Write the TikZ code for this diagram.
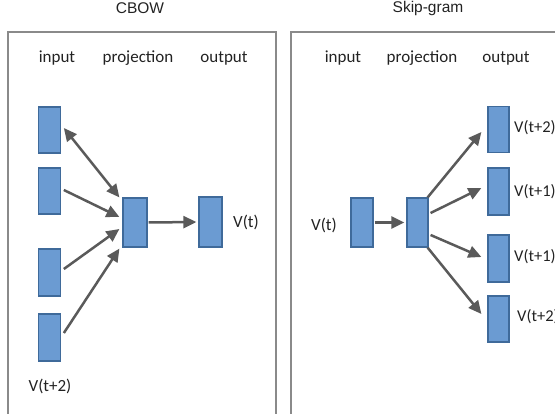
\documentclass[tikz,border=0pt]{standalone}
\usepackage{fontspec}
\setmainfont{Carlito}
\newfontfamily\titlefont{Liberation Sans}
\usetikzlibrary{arrows.meta}
\definecolor{vecfill}{HTML}{6B9BD2}
\definecolor{vecdraw}{HTML}{3F6A9A}
\definecolor{arrowgray}{HTML}{5A5A5A}
\definecolor{framegray}{HTML}{8A8A8A}
\definecolor{textcol}{HTML}{222222}
\begin{document}
\begin{tikzpicture}[x=1pt,y=-1pt,
  vec/.style={draw=vecdraw,line width=1.2pt,fill=vecfill,inner sep=0pt,minimum width=22pt,minimum height=46pt},
  conn/.style={draw=arrowgray,line width=2.5pt,-{Triangle[length=13pt,width=12pt]}},
  biconn/.style={draw=arrowgray,line width=2.5pt,{Triangle[length=13pt,width=12pt]}-{Triangle[length=13pt,width=12pt]}},
  frame/.style={draw=framegray,line width=1.5pt},
  lbl/.style={font=\fontsize{17}{20}\selectfont,inner sep=0pt,text=textcol},
  rlbl/.style={font=\fontsize{16.5}{19}\selectfont,inner sep=0pt,anchor=west,text=textcol},
  ttl/.style={font=\titlefont\fontsize{15.5}{18}\selectfont,inner sep=0pt,text=textcol}]
\useasboundingbox (0,0) rectangle (555,414);
\clip (0,0) rectangle (555,414);
% frames
\draw[frame] (8,440) -- (8,32) -- (276,32) -- (276,440);
\draw[frame] (291,440) -- (291,32) -- (580,32);
% titles
\node[ttl] (tcbow) at (140,8) {CBOW};
\node[ttl] (tskip) at (428,8) {Skip-gram};
% column headers
\node[lbl] (hin1) at (57,58) {input};
\node[lbl] (hpr1) at (138,58) {projection};
\node[lbl] (hou1) at (224,58) {output};
\node[lbl] (hin2) at (343,58) {input};
\node[lbl] (hpr2) at (422,58) {projection};
\node[lbl] (hou2) at (506,58) {output};
% CBOW vectors
\node[vec] (ci1) at (49.25,130) {};
\node[vec] (ci2) at (49.25,191) {};
\node[vec,minimum height=47pt] (ci3) at (49.25,272.5) {};
\node[vec,minimum height=47pt] (ci4) at (49.25,337.5) {};
\node[vec,minimum width=24pt,minimum height=49pt] (cp) at (135,222.5) {};
\node[vec,minimum width=23pt,minimum height=50pt] (co) at (210.5,222) {};
\node[lbl] (lvt) at (246,222) {V(t)};
\node[lbl] (lvt2) at (50,386) {V(t+2)};
% CBOW arrows
\draw[biconn] ([xshift=3pt,yshift=2pt]ci1.east) -- ([xshift=-3pt]cp.north west);
\draw[conn] ([xshift=3pt,yshift=1pt]ci2.east) -- ([xshift=-3pt,yshift=5.5pt]cp.west);
\draw[conn] ([xshift=3pt,yshift=3.5pt]ci3.east) -- ([xshift=-3pt,yshift=-6.5pt]cp.west);
\draw[conn] ([xshift=3pt,yshift=4.5pt]ci4.east) -- ([xshift=-3pt,yshift=-1pt]cp.south west);
\draw[conn] ([xshift=1pt]cp.east) -- ([xshift=-2pt]co.west);
% Skip-gram vectors
\node[vec,minimum height=49pt] (si) at (362,222.5) {};
\node[vec,minimum width=21pt,minimum height=49pt] (sp) at (417.5,222.5) {};
\node[vec,minimum width=21pt] (so1) at (498.5,129.5) {};
\node[vec,minimum width=21pt,minimum height=47pt] (so2) at (498.5,191.5) {};
\node[vec,minimum width=21pt,minimum height=47pt] (so3) at (498.5,258.5) {};
\node[vec,minimum width=21pt] (so4) at (498.5,319) {};
\node[lbl] (svt) at (324,225) {V(t)};
\node[rlbl] (sl1) at (514,128) {V(t+2)};
\node[rlbl] (sl2) at (514,192) {V(t+1)};
\node[rlbl] (sl3) at (514,257) {V(t+1)};
\node[rlbl] (sl4) at (517,317) {V(t+2)};
% Skip-gram arrows
\draw[conn] ([xshift=1pt]si.east) -- ([xshift=-2pt]sp.west);
\draw[conn] ([xshift=-1pt]sp.north east) -- ([xshift=-6pt,yshift=-2.5pt]so1.west);
\draw[conn] ([xshift=2pt,yshift=9.5pt]sp.east) -- ([xshift=-6pt,yshift=3.5pt]so2.west);
\draw[conn] ([xshift=2pt,yshift=-12.5pt]sp.east) -- ([xshift=-6pt,yshift=1.5pt]so3.west);
\draw[conn] ([xshift=-1pt]sp.south east) -- ([xshift=-6pt,yshift=5pt]so4.west);
\end{tikzpicture}
\end{document}
